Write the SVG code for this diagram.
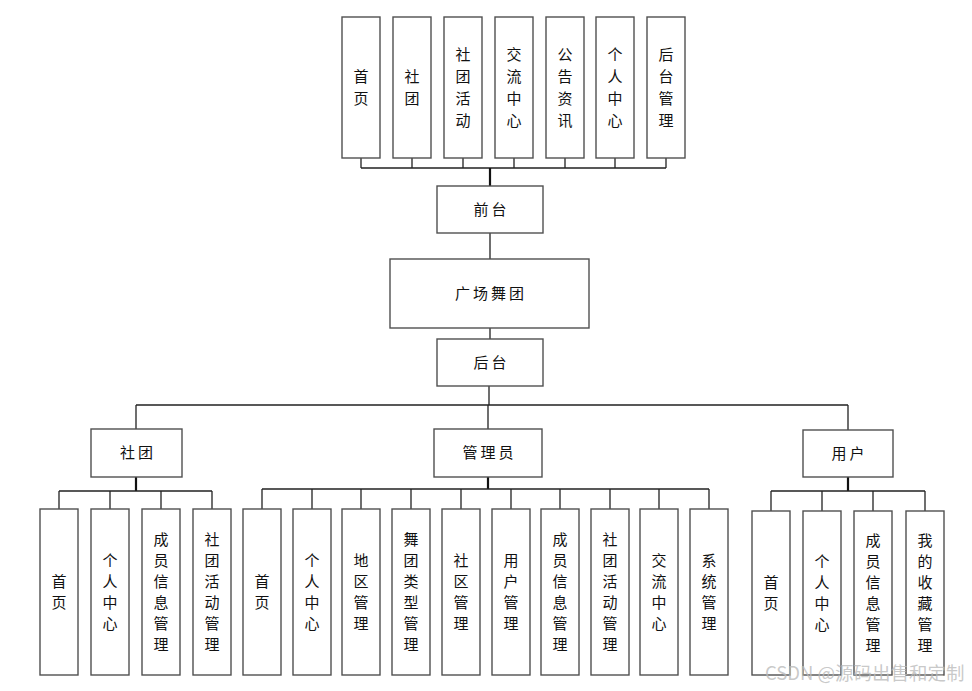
<svg xmlns="http://www.w3.org/2000/svg" width="972" height="691" viewBox="0 0 972 691">
<style>
.box{fill:#fff;stroke:#505050;stroke-width:1.4}
.ln{fill:none;stroke:#222;stroke-width:1.3}
.stub{fill:none;stroke:#111;stroke-width:2.2}
.t{font-family:"Noto Sans CJK SC","Microsoft YaHei",sans-serif;font-size:15px;fill:#111;text-anchor:middle;dominant-baseline:central;transform:translateY(-1.5px)}
.h{letter-spacing:3px}
.wm{font-family:"Noto Sans CJK SC",sans-serif;font-size:18.5px;fill:#bbb;fill-opacity:0.8}
</style>
<rect width="972" height="691" fill="#fff"/>
<g id="connectors">
<path class="ln" d="M361 158V168M412 158V168M463 158V168M514 158V168M565 158V168M615 158V168M666 158V168M361 168H666"/>
<path class="stub" d="M490 168V186"/>
<path class="ln" d="M490 233V259M490 328V339M489 386V405M136 405H848M136 405V429M488 405V429M848 405V430"/>
<path class="stub" d="M136 477V491M488 477V489M848 477V491"/>
<path class="ln" d="M59 491H212M59 491V509M110 491V509M161 491V509M212 491V509"/>
<path class="ln" d="M262 489H709M262 489V509M312 489V509M361 489V509M411 489V509M461 489V509M511 489V509M560 489V509M610 489V509M659 489V509M709 489V509"/>
<path class="ln" d="M771 491H925M771 491V511M822 491V511M873 491V511M925 491V511"/>
</g>
<g id="n-top-1"><rect class="box" x="342" y="17" width="38" height="141"/><text class="t"><tspan x="361" y="76.5">首</tspan><tspan x="361" y="98.5">页</tspan></text></g>
<g id="n-top-2"><rect class="box" x="393" y="17" width="38" height="141"/><text class="t"><tspan x="412" y="76.5">社</tspan><tspan x="412" y="98.5">团</tspan></text></g>
<g id="n-top-3"><rect class="box" x="444" y="17" width="38" height="141"/><text class="t"><tspan x="463" y="54.5">社</tspan><tspan x="463" y="76.5">团</tspan><tspan x="463" y="98.5">活</tspan><tspan x="463" y="120.5">动</tspan></text></g>
<g id="n-top-4"><rect class="box" x="495" y="17" width="38" height="141"/><text class="t"><tspan x="514" y="54.5">交</tspan><tspan x="514" y="76.5">流</tspan><tspan x="514" y="98.5">中</tspan><tspan x="514" y="120.5">心</tspan></text></g>
<g id="n-top-5"><rect class="box" x="546" y="17" width="38" height="141"/><text class="t"><tspan x="565" y="54.5">公</tspan><tspan x="565" y="76.5">告</tspan><tspan x="565" y="98.5">资</tspan><tspan x="565" y="120.5">讯</tspan></text></g>
<g id="n-top-6"><rect class="box" x="596" y="17" width="38" height="141"/><text class="t"><tspan x="615" y="54.5">个</tspan><tspan x="615" y="76.5">人</tspan><tspan x="615" y="98.5">中</tspan><tspan x="615" y="120.5">心</tspan></text></g>
<g id="n-top-7"><rect class="box" x="647" y="17" width="38" height="141"/><text class="t"><tspan x="666" y="54.5">后</tspan><tspan x="666" y="76.5">台</tspan><tspan x="666" y="98.5">管</tspan><tspan x="666" y="120.5">理</tspan></text></g>
<g id="n-qiantai"><rect class="box" x="437" y="186" width="106" height="47"/><text class="t h" x="491.5" y="209.5">前台</text></g>
<g id="n-root"><rect class="box" x="390" y="259" width="199" height="69"/><text class="t h" x="491" y="293.5">广场舞团</text></g>
<g id="n-houtai"><rect class="box" x="437" y="339" width="106" height="47"/><text class="t h" x="491.5" y="362.5">后台</text></g>
<g id="n-shetuan"><rect class="box" x="91" y="429" width="91" height="48"/><text class="t h" x="138" y="453">社团</text></g>
<g id="n-admin"><rect class="box" x="434" y="429" width="108" height="48"/><text class="t h" x="489.5" y="453">管理员</text></g>
<g id="n-user"><rect class="box" x="803" y="430" width="90" height="47"/><text class="t h" x="849.5" y="453.5">用户</text></g>
<g id="n-s1"><rect class="box" x="40" y="509" width="38" height="166"/><text class="t"><tspan x="59" y="581.5">首</tspan><tspan x="59" y="602.5">页</tspan></text></g>
<g id="n-s2"><rect class="box" x="91" y="509" width="38" height="166"/><text class="t"><tspan x="110" y="560.5">个</tspan><tspan x="110" y="581.5">人</tspan><tspan x="110" y="602.5">中</tspan><tspan x="110" y="623.5">心</tspan></text></g>
<g id="n-s3"><rect class="box" x="142" y="509" width="38" height="166"/><text class="t"><tspan x="161" y="539.5">成</tspan><tspan x="161" y="560.5">员</tspan><tspan x="161" y="581.5">信</tspan><tspan x="161" y="602.5">息</tspan><tspan x="161" y="623.5">管</tspan><tspan x="161" y="644.5">理</tspan></text></g>
<g id="n-s4"><rect class="box" x="193" y="509" width="38" height="166"/><text class="t"><tspan x="212" y="539.5">社</tspan><tspan x="212" y="560.5">团</tspan><tspan x="212" y="581.5">活</tspan><tspan x="212" y="602.5">动</tspan><tspan x="212" y="623.5">管</tspan><tspan x="212" y="644.5">理</tspan></text></g>
<g id="n-a1"><rect class="box" x="243" y="509" width="38" height="166"/><text class="t"><tspan x="262" y="581.5">首</tspan><tspan x="262" y="602.5">页</tspan></text></g>
<g id="n-a2"><rect class="box" x="293" y="509" width="38" height="166"/><text class="t"><tspan x="312" y="560.5">个</tspan><tspan x="312" y="581.5">人</tspan><tspan x="312" y="602.5">中</tspan><tspan x="312" y="623.5">心</tspan></text></g>
<g id="n-a3"><rect class="box" x="342" y="509" width="38" height="166"/><text class="t"><tspan x="361" y="560.5">地</tspan><tspan x="361" y="581.5">区</tspan><tspan x="361" y="602.5">管</tspan><tspan x="361" y="623.5">理</tspan></text></g>
<g id="n-a4"><rect class="box" x="392" y="509" width="38" height="166"/><text class="t"><tspan x="411" y="539.5">舞</tspan><tspan x="411" y="560.5">团</tspan><tspan x="411" y="581.5">类</tspan><tspan x="411" y="602.5">型</tspan><tspan x="411" y="623.5">管</tspan><tspan x="411" y="644.5">理</tspan></text></g>
<g id="n-a5"><rect class="box" x="442" y="509" width="38" height="166"/><text class="t"><tspan x="461" y="560.5">社</tspan><tspan x="461" y="581.5">区</tspan><tspan x="461" y="602.5">管</tspan><tspan x="461" y="623.5">理</tspan></text></g>
<g id="n-a6"><rect class="box" x="492" y="509" width="38" height="166"/><text class="t"><tspan x="511" y="560.5">用</tspan><tspan x="511" y="581.5">户</tspan><tspan x="511" y="602.5">管</tspan><tspan x="511" y="623.5">理</tspan></text></g>
<g id="n-a7"><rect class="box" x="541" y="509" width="38" height="166"/><text class="t"><tspan x="560" y="539.5">成</tspan><tspan x="560" y="560.5">员</tspan><tspan x="560" y="581.5">信</tspan><tspan x="560" y="602.5">息</tspan><tspan x="560" y="623.5">管</tspan><tspan x="560" y="644.5">理</tspan></text></g>
<g id="n-a8"><rect class="box" x="591" y="509" width="38" height="166"/><text class="t"><tspan x="610" y="539.5">社</tspan><tspan x="610" y="560.5">团</tspan><tspan x="610" y="581.5">活</tspan><tspan x="610" y="602.5">动</tspan><tspan x="610" y="623.5">管</tspan><tspan x="610" y="644.5">理</tspan></text></g>
<g id="n-a9"><rect class="box" x="640" y="509" width="38" height="166"/><text class="t"><tspan x="659" y="560.5">交</tspan><tspan x="659" y="581.5">流</tspan><tspan x="659" y="602.5">中</tspan><tspan x="659" y="623.5">心</tspan></text></g>
<g id="n-a10"><rect class="box" x="690" y="509" width="38" height="166"/><text class="t"><tspan x="709" y="560.5">系</tspan><tspan x="709" y="581.5">统</tspan><tspan x="709" y="602.5">管</tspan><tspan x="709" y="623.5">理</tspan></text></g>
<g id="n-u1"><rect class="box" x="752" y="511" width="38" height="164"/><text class="t"><tspan x="771" y="582.5">首</tspan><tspan x="771" y="603.5">页</tspan></text></g>
<g id="n-u2"><rect class="box" x="803" y="511" width="38" height="164"/><text class="t"><tspan x="822" y="561.5">个</tspan><tspan x="822" y="582.5">人</tspan><tspan x="822" y="603.5">中</tspan><tspan x="822" y="624.5">心</tspan></text></g>
<g id="n-u3"><rect class="box" x="854" y="511" width="38" height="164"/><text class="t"><tspan x="873" y="540.5">成</tspan><tspan x="873" y="561.5">员</tspan><tspan x="873" y="582.5">信</tspan><tspan x="873" y="603.5">息</tspan><tspan x="873" y="624.5">管</tspan><tspan x="873" y="645.5">理</tspan></text></g>
<g id="n-u4"><rect class="box" x="906" y="511" width="38" height="164"/><text class="t"><tspan x="925" y="540.5">我</tspan><tspan x="925" y="561.5">的</tspan><tspan x="925" y="582.5">收</tspan><tspan x="925" y="603.5">藏</tspan><tspan x="925" y="624.5">管</tspan><tspan x="925" y="645.5">理</tspan></text></g>
<text class="wm" x="765" y="680">CSDN @源码出售和定制</text>
</svg>
